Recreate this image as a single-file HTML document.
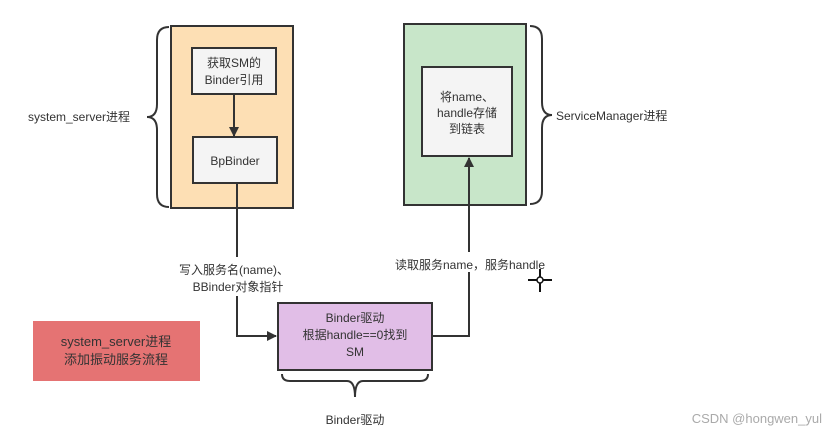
<!DOCTYPE html>
<html><head><meta charset="utf-8"><style>
body{margin:0;width:836px;height:437px;background:#fff;overflow:hidden;font-family:"Liberation Sans","Noto Sans CJK SC",sans-serif;}
svg text{font-family:"Liberation Sans","Noto Sans CJK SC",sans-serif;fill:#333;}
</style></head><body>
<svg width="836" height="437" viewBox="0 0 836 437">
<defs><marker id="a" markerWidth="10" markerHeight="10" refX="9" refY="5" orient="auto" markerUnits="userSpaceOnUse"><path d="M0,0 L10,5 L0,10 z" fill="#333"/></marker></defs>
<rect x="171" y="26" width="122" height="182" fill="#fddfb4" stroke="#333" stroke-width="2"/>
<rect x="192" y="48" width="84" height="46" fill="#f4f4f4" stroke="#333" stroke-width="2"/>
<text x="234" y="67" font-size="12" text-anchor="middle">获取SM的</text>
<text x="234" y="84" font-size="12" text-anchor="middle">Binder引用</text>
<line x1="234" y1="94" x2="234" y2="136" stroke="#333" stroke-width="2" marker-end="url(#a)"/>
<rect x="193" y="137" width="84" height="46" fill="#f4f4f4" stroke="#333" stroke-width="2"/>
<text x="235" y="165" font-size="12" text-anchor="middle">BpBinder</text>
<rect x="404" y="24" width="122" height="181" fill="#c8e6c9" stroke="#333" stroke-width="2"/>
<rect x="422" y="67" width="90" height="89" fill="#f4f4f4" stroke="#333" stroke-width="2"/>
<text x="467" y="101" font-size="12" text-anchor="middle">将name、</text>
<text x="467" y="117" font-size="12" text-anchor="middle">handle存储</text>
<text x="467" y="133" font-size="12" text-anchor="middle">到链表</text>
<path d="M169,27 Q157,27 157,40 L157,104 Q157,117 147,117 Q157,117 157,130 L157,194 Q157,207 169,207" fill="none" stroke="#333" stroke-width="2"/>
<path d="M530,26 Q542,26 542,39 L542,102 Q542,115 552,115 Q542,115 542,128 L542,191 Q542,204 530,204" fill="none" stroke="#333" stroke-width="2"/>
<text x="28" y="121" font-size="12">system_server进程</text>
<text x="556" y="120" font-size="12">ServiceManager进程</text>
<path d="M237,183 L237,257 M237,296 L237,336 L276,336" fill="none" stroke="#333" stroke-width="2" marker-end="url(#a)"/>
<text x="234" y="274" font-size="12" text-anchor="middle">写入服务名(name)、</text>
<text x="238" y="291" font-size="12" text-anchor="middle">BBinder对象指针</text>
<path d="M432,336 L469,336 L469,272 M469,252 L469,158" fill="none" stroke="#333" stroke-width="2" marker-end="url(#a)"/>
<text x="470" y="269" font-size="12" text-anchor="middle">读取服务name，服务handle</text>
<rect x="278" y="303" width="154" height="67" fill="#e1bee7" stroke="#333" stroke-width="2"/>
<text x="355" y="322" font-size="12" text-anchor="middle">Binder驱动</text>
<text x="355" y="339" font-size="12" text-anchor="middle">根据handle==0找到</text>
<text x="355" y="356" font-size="12" text-anchor="middle">SM</text>
<path d="M282,374 Q282,381 290,381 L347,381 Q355,381 355,397 Q355,381 363,381 L420,381 Q428,381 428,374" fill="none" stroke="#333" stroke-width="2"/>
<text x="355" y="424" font-size="12" text-anchor="middle">Binder驱动</text>
<rect x="33" y="321" width="167" height="60" fill="#e57373"/>
<text x="116" y="346" font-size="13" text-anchor="middle">system_server进程</text>
<text x="116" y="364" font-size="13" text-anchor="middle">添加振动服务流程</text>
<path d="M540,269 V292 M528,280 H552" stroke="#111" stroke-width="2"/>
<circle cx="540" cy="280" r="3" fill="#fff" stroke="#111" stroke-width="1.5"/>
<text x="822" y="423" font-size="13" text-anchor="end" fill="#999" style="fill:#aaa">CSDN @hongwen_yul</text>
</svg>
</body></html>
